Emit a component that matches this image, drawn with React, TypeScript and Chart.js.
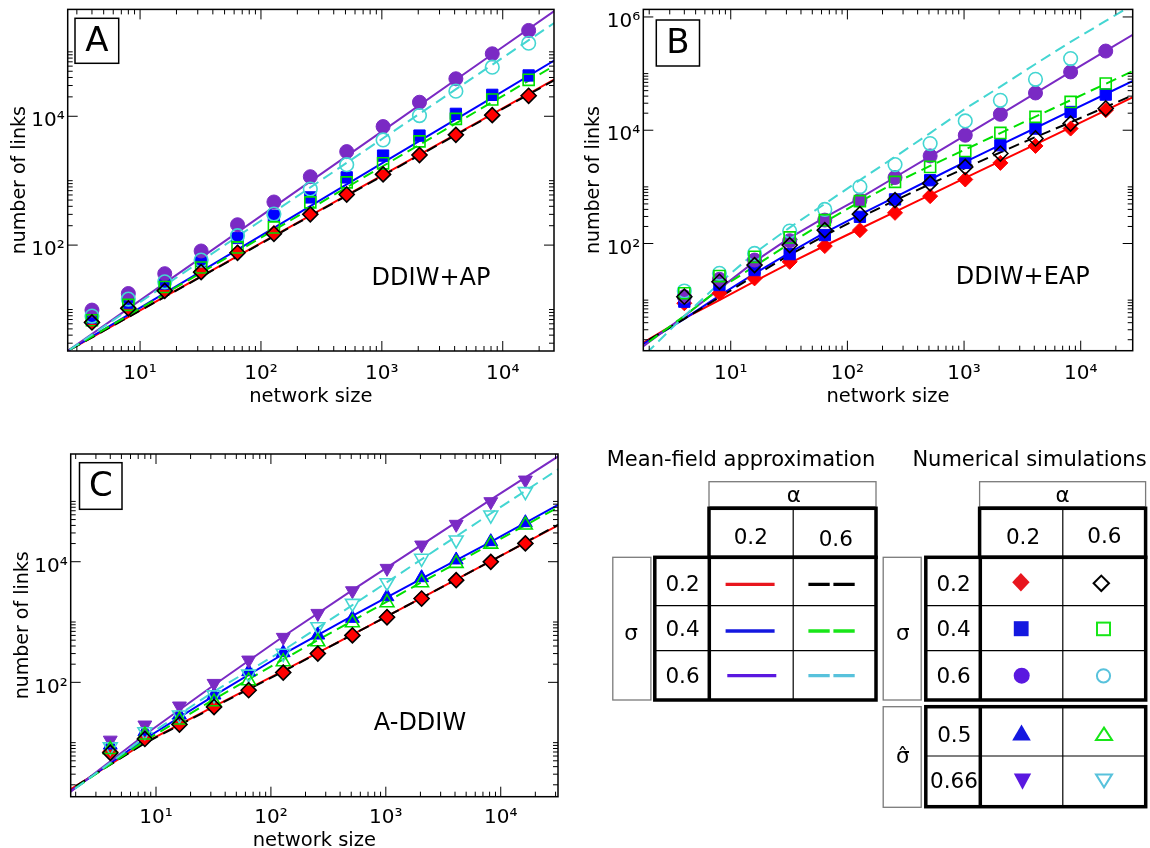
import React, { useEffect, useRef } from "react";
import { Chart, registerables } from "chart.js";

Chart.register(...registerables);

const FONT = "'DejaVu Sans', 'Noto Sans', sans-serif";

// ---------- shared axis data ----------
const SIZES = [4, 8, 16, 32, 64, 128, 256, 512, 1024, 2048, 4096, 8192, 16384];
const X_TICKS = [10, 100, 1000, 10000];
const Y_TICKS_A = [100, 10000];
const Y_TICKS_B = [100, 10000, 1000000];
const Y_TICKS_C = [100, 10000];
const TICK_TEXT: Record<string, string> = {
  "10": "10¹",
  "100": "10²",
  "1000": "10³",
  "10000": "10⁴",
  "1000000": "10⁶",
};

// ---------- panel A: DDIW+AP ----------
const A_LINE_X = [2, 16, 128, 1024, 8192, 32768];
const A_MF_RED = [1.79, 15.8, 139, 1227, 10810, 46100];
const A_MF_BLACK = [1.79, 15.7, 137, 1205, 10570, 44900];
const A_MF_BLUE = [1.76, 18.0, 185, 1900, 19540, 92300];
const A_MF_GREEN = [1.77, 17.4, 171, 1690, 16600, 76400];
const A_MF_PURPLE = [1.68, 25.7, 393, 6000, 91600, 564000];
const A_MF_CYAN = [1.69, 23.6, 327, 4550, 63100, 364000];
const A_SIM_RED = [6.5, 10.7, 20, 38.8, 76.7, 154, 303, 621, 1270, 2540, 5190, 10500, 21000];
const A_SIM_BLACK = [6.3, 10.4, 19.5, 38, 76, 150, 300, 610, 1250, 2500, 5150, 10400, 20800];
const A_SIM_BLUE = [7.5, 12.8, 25.3, 57, 129, 286, 550, 1125, 2450, 5010, 10900, 21500, 43000];
const A_SIM_GREEN = [6.8, 11.8, 22.4, 44.9, 92, 188, 460, 942, 1860, 4080, 9120, 18200, 36800];
const A_SIM_PURPLE = [9.8, 17.7, 36, 81, 207, 467, 1153, 2826, 6918, 16520, 38200, 93300, 215000];
const A_SIM_CYAN = [7.9, 14.5, 26.9, 58.5, 140, 303, 743, 1774, 4295, 10260, 24500, 57800, 136000];

// ---------- panel B: DDIW+EAP ----------
const B_LINE_X = [1.5, 2, 4, 8, 16, 32, 64, 128, 256, 512, 1024, 2048, 4096, 8192, 16384, 32768];
const B_MF_RED = [1.45, 2.04, 4.79, 10, 21.4, 45.2, 91.2, 182, 363, 724, 1445, 2850, 5620, 11200, 22400, 44700];
const B_MF_BLACK = [1.39, 2.0, 4.68, 11.2, 26.9, 63.1, 138, 288, 575, 1122, 2138, 4074, 7586, 13800, 25700, 47900];
const B_MF_BLUE = [1.34, 1.95, 4.68, 12.0, 29.5, 69.2, 155, 324, 661, 1349, 2754, 5495, 10960, 21880, 43650, 87100];
const B_MF_GREEN = [1.24, 1.86, 5.25, 15.8, 39.8, 100, 240, 550, 1175, 2344, 4571, 8913, 17380, 33880, 66070, 128800];
const B_MF_PURPLE = [1.18, 1.82, 5.25, 15.8, 47.9, 126, 288, 631, 1479, 3467, 8128, 19050, 45190, 107200, 251200, 588800];
const B_MF_CYAN = [0.69, 1.29, 5.25, 20.0, 67.6, 191, 501, 1318, 3388, 8913, 23990, 58880, 147900, 363100, 851100, 1995000];
const B_SIM_RED = [8.8, 13.2, 24.2, 47.5, 90, 172, 348, 686, 1350, 2650, 5280, 10700, 22500];
const B_SIM_BLACK = [11.5, 21.1, 41.6, 93.7, 172, 330, 582, 1150, 2250, 3880, 7150, 13100, 24200];
const B_SIM_BLUE = [9.4, 18.5, 34, 65, 141, 296, 600, 1310, 2650, 5430, 10700, 21000, 42600];
const B_SIM_GREEN = [13.2, 26.6, 58.2, 128, 259, 560, 1225, 2250, 4310, 8960, 17200, 31600, 66700];
const B_SIM_PURPLE = [11.5, 23.3, 51, 112, 259, 582, 1466, 3520, 8160, 19100, 45500, 107000, 250000];
const B_SIM_CYAN = [14.5, 29.7, 66.8, 166, 399, 1000, 2480, 5820, 14600, 33800, 79300, 184000];

// ---------- panel C: A-DDIW ----------
const C_LINE_X = [1.5, 8, 32, 128, 512, 2048, 8192, 32768];
const C_MF_RED = [1.35, 10, 39.8, 155, 617, 2512, 10230, 41690];
const C_MF_BLACK = [1.35, 9.8, 38.9, 151, 617, 2512, 10230, 42660];
const C_MF_BLUE = [1.23, 11.5, 60.3, 295, 1259, 5248, 21380, 91200];
const C_MF_GREEN = [1.23, 10.7, 52.5, 240, 1047, 4571, 19500, 83180];
const C_MF_PURPLE = [1.17, 13.5, 90.2, 575, 3388, 19050, 107200, 582100];
const C_MF_CYAN = [1.17, 12.3, 70.8, 339, 1905, 10960, 63100, 354800];
const C_SIM_RED = [7.1, 11.8, 20.3, 39.4, 74.5, 147, 303, 608, 1220, 2470, 4980, 10000, 20200];
const C_SIM_BLACK = [6.8, 11.5, 20, 39, 74, 145, 300, 600, 1200, 2450, 4950, 9950, 20100];
const C_SIM_BLUE_UP = [9.1, 15.2, 28.7, 61.6, 150, 310, 608, 1150, 2630, 5430, 10700, 21500, 44400];
const C_SIM_GREEN_UP = [7.7, 13.4, 23.7, 47.6, 106, 220, 471, 973, 2090, 4490, 9400, 19600, 40600];
const C_SIM_PURPLE_DOWN = [11, 19.6, 40.5, 96, 234, 557, 1390, 3300, 7760, 18900, 41700, 98900, 226000];
const C_SIM_CYAN_DOWN = [8.5, 15.2, 28.7, 62, 137, 303, 836, 2040, 4490, 11400, 22900, 59400, 145000];

// ---------- legend tables ----------
const ALPHA_VALUES = ["0.2", "0.6"];
const SIGMA_VALUES = ["0.2", "0.4", "0.6"];
const SIGMA_HAT_VALUES = ["0.5", "0.66"];

const COL = {
  red: "#ff0000",
  black: "#000000",
  blue: "#0000ff",
  green: "#00e000",
  purple: "#7a2ac4",
  cyan: "#44d6d2",
};
const LEG = {
  red: "#e8161e",
  black: "#000000",
  blue: "#1418e0",
  green: "#18e618",
  purple: "#5a18e0",
  cyan: "#58c2dc",
};

type Pt = { x: number; y: number };
const pts = (xs: number[], ys: number[]): Pt[] =>
  xs.map((x, i) => ({ x, y: ys[i] })).filter((p) => p.y != null);

function mfLine(xs: number[], ys: number[], color: string, dashed: boolean, order: number) {
  return {
    data: pts(xs, ys),
    showLine: true,
    borderColor: color,
    borderWidth: 2,
    borderDash: dashed ? [11, 6] : [],
    pointRadius: 0,
    pointHoverRadius: 0,
    fill: false,
    tension: 0,
    order,
    clip: 0,
  };
}

function sim(
  ys: number[],
  style: string,
  color: string,
  filled: boolean,
  order: number,
  radius: number,
  rotation = 0
) {
  return {
    data: pts(SIZES, ys),
    showLine: false,
    pointStyle: style,
    pointRadius: radius,
    pointHoverRadius: radius,
    pointRotation: rotation,
    pointBackgroundColor: filled ? color : "rgba(0,0,0,0)",
    pointBorderColor: color,
    pointBorderWidth: filled ? 1 : 1.6,
    order,
    clip: false,
  };
}

interface PanelCfg {
  left: number;
  top: number;
  width: number;
  height: number;
  pad: { left: number; top: number; right: number; bottom: number };
  yAxisW: number;
  xAxisH: number;
  xMin: number;
  xMax: number;
  yMin: number;
  yMax: number;
  yTicks: number[];
  xTickPad: number;
  yTitlePad: number;
  xTitlePad: number;
  label: string;
  box: [number, number, number, number];
  note: string;
  noteX: number;
  noteY: number;
  build: () => any[];
}

function decorPlugin(cfg: PanelCfg) {
  return {
    id: "decor",
    afterDatasetsDraw(chart: any) {
      const { ctx, chartArea } = chart;
      const { left, right, top, bottom } = chartArea;
      const xs = chart.scales.x;
      const ys = chart.scales.y;
      ctx.save();
      ctx.strokeStyle = "#000";
      ctx.lineWidth = 1;
      ctx.beginPath();
      for (let e = -1; e <= 7; e++) {
        const dec = Math.pow(10, e);
        for (let m = 1; m <= 9; m++) {
          const v = m * dec;
          if (v >= xs.min && v <= xs.max) {
            const px = xs.getPixelForValue(v);
            const len = m === 1 ? 10 : 5;
            ctx.moveTo(px, bottom);
            ctx.lineTo(px, bottom - len);
            ctx.moveTo(px, top);
            ctx.lineTo(px, top + len);
          }
          const even = e % 2 === 0;
          const isMinorY = even ? m > 1 : m === 1;
          const isMajorY = even && m === 1;
          if ((isMinorY || isMajorY) && v >= ys.min && v <= ys.max) {
            const py = ys.getPixelForValue(v);
            const len = isMajorY ? 10 : 5;
            ctx.moveTo(left, py);
            ctx.lineTo(left + len, py);
            ctx.moveTo(right, py);
            ctx.lineTo(right - len, py);
          }
        }
      }
      ctx.stroke();
      ctx.lineWidth = 1.5;
      ctx.strokeRect(left, top, right - left, bottom - top);
      // panel letter box
      const [bx, by, bw, bh] = cfg.box;
      ctx.fillStyle = "#fff";
      ctx.fillRect(bx, by, bw, bh);
      ctx.strokeRect(bx, by, bw, bh);
      ctx.fillStyle = "#000";
      ctx.textAlign = "center";
      ctx.textBaseline = "middle";
      ctx.font = `34px ${FONT}`;
      ctx.fillText(cfg.label, bx + bw / 2, by + bh / 2 + 1);
      ctx.font = `24px ${FONT}`;
      ctx.fillText(cfg.note, cfg.noteX, cfg.noteY);
      ctx.restore();
    },
  };
}

function Panel({ cfg }: { cfg: PanelCfg }) {
  const ref = useRef<HTMLCanvasElement>(null);
  useEffect(() => {
    const canvas = ref.current;
    if (!canvas) return;
    const chart = new Chart(canvas, {
      type: "scatter",
      data: { datasets: cfg.build() as any },
      options: {
        responsive: false,
        animation: false,
        devicePixelRatio: 1,
        events: [],
        layout: { padding: cfg.pad },
        plugins: { legend: { display: false }, tooltip: { enabled: false } },
        scales: {
          x: {
            type: "logarithmic",
            position: "bottom",
            min: cfg.xMin,
            max: cfg.xMax,
            grid: { display: false, drawTicks: false },
            border: { display: false },
            afterBuildTicks: (s: any) => {
              s.ticks = X_TICKS.map((v) => ({ value: v }));
            },
            afterFit: (s: any) => {
              s.height = cfg.xAxisH;
              s.paddingLeft = 0;
              s.paddingRight = 0;
            },
            ticks: {
              autoSkip: false,
              maxRotation: 0,
              minRotation: 0,
              padding: cfg.xTickPad,
              color: "#000",
              font: { family: FONT, size: 20 },
              callback: (v: any) => TICK_TEXT[String(v)] ?? "",
            },
            title: {
              display: true,
              text: "network size",
              color: "#000",
              font: { family: FONT, size: 19.5 },
              padding: { top: 0, bottom: cfg.xTitlePad },
            },
          },
          y: {
            type: "logarithmic",
            position: "left",
            min: cfg.yMin,
            max: cfg.yMax,
            grid: { display: false, drawTicks: false },
            border: { display: false },
            afterBuildTicks: (s: any) => {
              s.ticks = cfg.yTicks.map((v) => ({ value: v }));
            },
            afterFit: (s: any) => {
              s.width = cfg.yAxisW;
              s.paddingTop = 0;
              s.paddingBottom = 0;
            },
            ticks: {
              autoSkip: false,
              padding: 3,
              labelOffset: 5,
              color: "#000",
              font: { family: FONT, size: 20 },
              callback: (v: any) => TICK_TEXT[String(v)] ?? "",
            },
            title: {
              display: true,
              text: "number of links",
              color: "#000",
              font: { family: FONT, size: 19 },
              padding: { top: cfg.yTitlePad, bottom: 0 },
            },
          },
        },
      } as any,
      plugins: [decorPlugin(cfg)],
    });
    return () => chart.destroy();
  }, []);
  return (
    <canvas
      ref={ref}
      width={cfg.width}
      height={cfg.height}
      style={{
        position: "absolute",
        left: cfg.left,
        top: cfg.top,
        width: cfg.width,
        height: cfg.height,
      }}
    />
  );
}

const PANEL_A: PanelCfg = {
  left: 0,
  top: 0,
  width: 570,
  height: 410,
  pad: { left: 0, top: 9, right: 16, bottom: 0 },
  yAxisW: 67.7,
  xAxisH: 59,
  xMin: 2.52,
  xMax: 26550,
  yMin: 2.27,
  yMax: 456000,
  yTicks: Y_TICKS_A,
  xTickPad: 10.7,
  yTitlePad: 8.6,
  xTitlePad: 1.1,
  label: "A",
  box: [75, 18.3, 43.7, 45],
  note: "DDIW+AP",
  noteX: 431,
  noteY: 278.3,
  build: () => [
    mfLine(A_LINE_X, A_MF_RED, COL.red, false, 60),
    mfLine(A_LINE_X, A_MF_BLUE, COL.blue, false, 59),
    mfLine(A_LINE_X, A_MF_PURPLE, COL.purple, false, 58),
    mfLine(A_LINE_X, A_MF_BLACK, COL.black, true, 55),
    mfLine(A_LINE_X, A_MF_GREEN, COL.green, true, 54),
    mfLine(A_LINE_X, A_MF_CYAN, COL.cyan, true, 53),
    sim(A_SIM_RED, "rectRot", COL.red, true, 20, 7.5),
    sim(A_SIM_BLUE, "rect", COL.blue, true, 19, 8),
    sim(A_SIM_PURPLE, "circle", COL.purple, true, 18, 7),
    sim(A_SIM_CYAN, "circle", COL.cyan, false, 12, 6.8),
    sim(A_SIM_GREEN, "rect", COL.green, false, 11, 7.8),
    sim(A_SIM_BLACK, "rectRot", COL.black, false, 10, 7.5),
  ],
};

const PANEL_B: PanelCfg = {
  left: 570,
  top: 0,
  width: 580,
  height: 410,
  pad: { left: 0, top: 9, right: 17.3, bottom: 0 },
  yAxisW: 73.3,
  xAxisH: 59.3,
  xMin: 1.78,
  xMax: 27900,
  yMin: 1.28,
  yMax: 1360000,
  yTicks: Y_TICKS_B,
  xTickPad: 11,
  yTitlePad: 12.8,
  xTitlePad: 1.1,
  label: "B",
  box: [86.3, 20, 43.2, 46],
  note: "DDIW+EAP",
  noteX: 452.8,
  noteY: 277.3,
  build: () => [
    mfLine(B_LINE_X, B_MF_RED, COL.red, false, 60),
    mfLine(B_LINE_X, B_MF_BLUE, COL.blue, false, 59),
    mfLine(B_LINE_X, B_MF_PURPLE, COL.purple, false, 58),
    mfLine(B_LINE_X, B_MF_BLACK, COL.black, true, 55),
    mfLine(B_LINE_X, B_MF_GREEN, COL.green, true, 54),
    mfLine(B_LINE_X, B_MF_CYAN, COL.cyan, true, 53),
    sim(B_SIM_RED, "rectRot", COL.red, true, 20, 7.5),
    sim(B_SIM_BLUE, "rect", COL.blue, true, 19, 8),
    sim(B_SIM_PURPLE, "circle", COL.purple, true, 18, 7),
    sim(B_SIM_CYAN, "circle", COL.cyan, false, 12, 6.8),
    sim(B_SIM_GREEN, "rect", COL.green, false, 11, 7.8),
    sim(B_SIM_BLACK, "rectRot", COL.black, false, 10, 7.5),
  ],
};

const PANEL_C: PanelCfg = {
  left: 0,
  top: 430,
  width: 580,
  height: 418,
  pad: { left: 0, top: 24, right: 22, bottom: 0 },
  yAxisW: 70.7,
  xAxisH: 51.3,
  xMin: 1.81,
  xMax: 31500,
  yMin: 1.27,
  yMax: 611000,
  yTicks: Y_TICKS_C,
  xTickPad: 8.8,
  yTitlePad: 11.6,
  xTitlePad: -4.3,
  label: "C",
  box: [79.5, 32.7, 42.5, 46.6],
  note: "A-DDIW",
  noteX: 420,
  noteY: 293.3,
  build: () => [
    mfLine(C_LINE_X, C_MF_RED, COL.red, false, 60),
    mfLine(C_LINE_X, C_MF_BLUE, COL.blue, false, 59),
    mfLine(C_LINE_X, C_MF_PURPLE, COL.purple, false, 58),
    mfLine(C_LINE_X, C_MF_BLACK, COL.black, true, 55),
    mfLine(C_LINE_X, C_MF_GREEN, COL.green, true, 54),
    mfLine(C_LINE_X, C_MF_CYAN, COL.cyan, true, 53),
    sim(C_SIM_RED, "rectRot", COL.red, true, 20, 7.5),
    sim(C_SIM_BLUE_UP, "triangle", COL.blue, true, 19, 8),
    sim(C_SIM_PURPLE_DOWN, "triangle", COL.purple, true, 18, 8, 180),
    sim(C_SIM_CYAN_DOWN, "triangle", COL.cyan, false, 12, 8, 180),
    sim(C_SIM_GREEN_UP, "triangle", COL.green, false, 11, 8),
    sim(C_SIM_BLACK, "rectRot", COL.black, false, 10, 7.5),
  ],
};

function Legend() {
  const thin = { fill: "none", stroke: "#7a7a7a", strokeWidth: 1.3 };
  const thick = { fill: "none", stroke: "#000", strokeWidth: 3.5 };
  const hair = { stroke: "#000", strokeWidth: 1.2 };
  const tStyle = { fontFamily: FONT, fontSize: 21.5, fill: "#000" } as any;
  const T = (x: number, y: number, s: string) => (
    <text key={`${s}-${x}-${y}`} x={x} y={y} textAnchor="middle" dominantBaseline="central" style={tStyle}>
      {s}
    </text>
  );
  const rowsY = [583.3, 628.3, 675];
  const mfRows = [
    { solid: LEG.red, dash: LEG.black, y: 584.3, sx: 725.6 },
    { solid: LEG.blue, dash: LEG.green, y: 631, sx: 725.6 },
    { solid: LEG.purple, dash: LEG.cyan, y: 675.7, sx: 727.3 },
  ];
  return (
    <svg
      width={1150}
      height={848}
      style={{ position: "absolute", left: 0, top: 0, pointerEvents: "none" }}
    >
      {/* titles */}
      <text x={741} y={458.5} textAnchor="middle" dominantBaseline="central" style={{ ...tStyle, fontSize: 21 }}>
        Mean-field approximation
      </text>
      <text x={1029.5} y={458.5} textAnchor="middle" dominantBaseline="central" style={{ ...tStyle, fontSize: 21 }}>
        Numerical simulations
      </text>

      {/* ---- mean-field table ---- */}
      <rect x={709} y={481.7} width={167} height={25} {...thin} />
      {T(793.8, 494, "α")}
      <rect x={709} y={508.3} width={167} height={49} {...thick} />
      <line x1={793.2} y1={508.3} x2={793.2} y2={557.3} {...hair} />
      {T(750.8, 536.7, ALPHA_VALUES[0])}
      {T(835.8, 538, ALPHA_VALUES[1])}
      <rect x={612.8} y={557.3} width={38.1} height={142.7} {...thin} />
      {T(631, 632.5, "σ")}
      <rect x={654.8} y={557.3} width={221.2} height={142.7} {...thick} />
      <line x1={709.3} y1={557.3} x2={709.3} y2={700} {...thick} />
      <line x1={793.2} y1={557.3} x2={793.2} y2={700} {...hair} />
      <line x1={654.8} y1={605.7} x2={876} y2={605.7} {...hair} />
      <line x1={654.8} y1={650.7} x2={876} y2={650.7} {...hair} />
      {SIGMA_VALUES.map((s, i) => T(682.5, rowsY[i], s))}
      {mfRows.map((r, i) => (
        <g key={`mf${i}`}>
          <line x1={r.sx} y1={r.y} x2={r.sx + 49} y2={r.y} stroke={r.solid} strokeWidth={3.3} />
          <line
            x1={808.4}
            y1={r.y}
            x2={854.7}
            y2={r.y}
            stroke={r.dash}
            strokeWidth={3.3}
            strokeDasharray="21.3 3.7"
          />
        </g>
      ))}

      {/* ---- simulations table ---- */}
      <rect x={979.6} y={481.7} width={166} height={25} {...thin} />
      {T(1062.5, 494, "α")}
      <rect x={979.6} y={508.3} width={166} height={49} {...thick} />
      <line x1={1062.8} y1={508.3} x2={1062.8} y2={557.3} {...hair} />
      {T(1023, 536, ALPHA_VALUES[0])}
      {T(1104.4, 535.5, ALPHA_VALUES[1])}
      <rect x={883.2} y={557.3} width={38} height={142.7} {...thin} />
      {T(902.8, 632.5, "σ")}
      <rect x={925.8} y={557.3} width={219.9} height={142.7} {...thick} />
      <line x1={980.3} y1={557.3} x2={980.3} y2={700} {...thick} />
      <line x1={1062.8} y1={557.3} x2={1062.8} y2={700} {...hair} />
      <line x1={925.8} y1={605.7} x2={1145.7} y2={605.7} {...hair} />
      <line x1={925.8} y1={650.7} x2={1145.7} y2={650.7} {...hair} />
      {SIGMA_VALUES.map((s, i) => T(953.5, rowsY[i], s))}
      <rect x={883.2} y={706.7} width={38} height={100.6} {...thin} />
      {T(902.8, 755, "σ̂")}
      <rect x={925.8} y={706.7} width={219.9} height={100} {...thick} />
      <line x1={980.3} y1={706.7} x2={980.3} y2={806.7} {...thick} />
      <line x1={1062.8} y1={706.7} x2={1062.8} y2={806.7} {...hair} />
      <line x1={925.8} y1={756} x2={1145.7} y2={756} {...hair} />
      {T(954.3, 734.3, SIGMA_HAT_VALUES[0])}
      {T(954, 780.5, SIGMA_HAT_VALUES[1])}

      {/* markers */}
      <polygon points="1020.9,573 1029.6,582.3 1020.9,591.6 1012.2,582.3" fill={LEG.red} />
      <polygon points="1101.3,575.6 1109,583.3 1101.3,591 1093.6,583.3" fill="none" stroke={LEG.black} strokeWidth={2} />
      <rect x={1013.8} y={621.2} width={14.8} height={15} fill={LEG.blue} />
      <rect x={1097} y={622.6} width={13} height={12.6} fill="none" stroke={LEG.green} strokeWidth={2} />
      <circle cx={1021.7} cy={675.7} r={8} fill={LEG.purple} />
      <circle cx={1103.5} cy={675.8} r={6.6} fill="none" stroke={LEG.cyan} strokeWidth={2} />
      <polygon points="1021.5,724.6 1030.8,740.5 1012.2,740.5" fill={LEG.blue} />
      <polygon points="1104,727.6 1112,740 1096,740" fill="none" stroke={LEG.green} strokeWidth={2} />
      <polygon points="1013.8,773.5 1031.2,773.5 1022.5,789.8" fill={LEG.purple} />
      <polygon points="1096,774.4 1112,774.4 1104,787.3" fill="none" stroke={LEG.cyan} strokeWidth={2} />
    </svg>
  );
}

export default function App() {
  return (
    <div
      style={{
        position: "absolute",
        left: 0,
        top: 0,
        width: 1150,
        height: 848,
        overflow: "hidden",
        background: "#fff",
      }}
    >
      <Panel cfg={PANEL_A} />
      <Panel cfg={PANEL_B} />
      <Panel cfg={PANEL_C} />
      <Legend />
    </div>
  );
}
